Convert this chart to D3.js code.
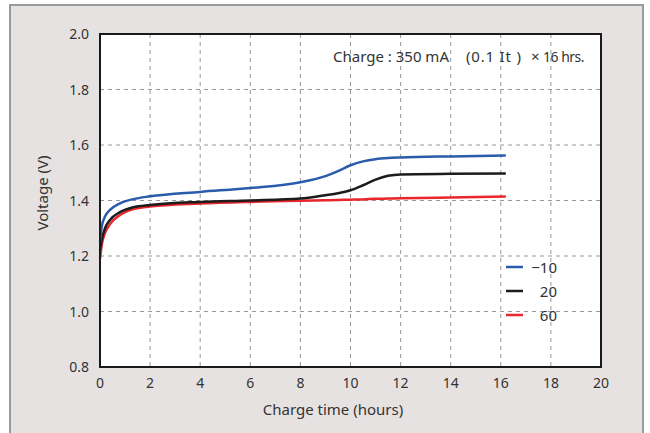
<!DOCTYPE html>
<html lang="en">
<head>
<meta charset="UTF-8">
<title>Charge voltage</title>
<script src="https://cdn.jsdelivr.net/npm/d3@7/dist/d3.min.js"></script>
<style>
  body { margin: 0; background: #fff; }
  text { font-family: "Noto Sans", sans-serif; fill: #333; }
</style>
</head>
<body>
<svg width="650" height="433"></svg>
<script>
// charge time (hours)
const hours = [0, 0.07, 0.2, 0.4, 0.8, 1.33, 2, 4, 6, 8, 9, 9.5, 10, 10.5, 11, 11.5, 12, 14, 16.2];
// voltage per ambient temperature
const vMinus10 = [1.25, 1.306, 1.342, 1.366, 1.39, 1.405, 1.415, 1.431, 1.445, 1.466, 1.488, 1.506, 1.527, 1.541, 1.549, 1.553, 1.555, 1.559, 1.562];
const v20 = [1.22, 1.258, 1.30, 1.33, 1.358, 1.376, 1.384, 1.395, 1.40, 1.407, 1.419, 1.426, 1.437, 1.455, 1.475, 1.489, 1.494, 1.496, 1.497];
const v60 = [1.19, 1.24, 1.283, 1.315, 1.348, 1.369, 1.378, 1.389, 1.395, 1.399, 1.401, 1.402, 1.403, 1.404, 1.406, 1.407, 1.408, 1.411, 1.414];
const seriesNames = ["\u221210", "20", "60"];
const seriesColors = ["#2b5cab", "#1c1c1c", "#e8262b"];
const xTicks = [0, 2, 4, 6, 8, 10, 12, 14, 16, 18, 20];
const yTicks = [0.8, 1.0, 1.2, 1.4, 1.6, 1.8, 2.0];

const svg = d3.select("svg");

// frame
svg.append("rect")
  .attr("x", 10).attr("y", 5).attr("width", 633).attr("height", 440)
  .attr("fill", "#e7e2e2").attr("stroke", "#9a9a9a").attr("stroke-width", 2);

const x = d3.scaleLinear().domain([0, 20]).range([100, 601]);
const y = d3.scaleLinear().domain([0.8, 2.0]).range([367, 34]);

svg.append("rect")
  .attr("x", x(0)).attr("y", y(2.0))
  .attr("width", x(20) - x(0)).attr("height", y(0.8) - y(2.0))
  .attr("fill", "#fff");

// grid
svg.append("g").selectAll("line")
  .data(xTicks.slice(1, -1))
  .join("line")
  .attr("x1", d => x(d)).attr("x2", d => x(d))
  .attr("y1", y(2.0)).attr("y2", y(0.8))
  .attr("stroke", "#999").attr("stroke-dasharray", "4,4");
svg.append("g").selectAll("line")
  .data(yTicks.slice(1, -1))
  .join("line")
  .attr("x1", x(0)).attr("x2", x(20))
  .attr("y1", d => y(d)).attr("y2", d => y(d))
  .attr("stroke", "#999").attr("stroke-dasharray", "4,4");

// tick labels
svg.append("g").selectAll("text")
  .data(yTicks)
  .join("text")
  .attr("x", 89).attr("y", d => y(d) + 5)
  .attr("text-anchor", "end").attr("font-size", 14)
  .text(d => d.toFixed(1));
svg.append("g").selectAll("text")
  .data(xTicks)
  .join("text")
  .attr("x", d => x(d)).attr("y", 388)
  .attr("text-anchor", "middle").attr("font-size", 14)
  .text(d => d);

// curves
const series = [vMinus10, v20, v60];
const line = d3.line()
  .x((d, i) => x(hours[i]))
  .y(d => y(d))
  .curve(d3.curveMonotoneX);
svg.append("g").selectAll("path")
  .data(series.slice().reverse())
  .join("path")
  .attr("d", d => line(d))
  .attr("fill", "none")
  .attr("stroke", (d, i) => seriesColors[2 - i])
  .attr("stroke-width", 2.5);

// plot border
svg.append("rect")
  .attr("x", x(0)).attr("y", y(2.0))
  .attr("width", x(20) - x(0)).attr("height", y(0.8) - y(2.0))
  .attr("fill", "none").attr("stroke", "#1a1a1a").attr("stroke-width", 2);

// legend
const lg = svg.append("g").selectAll("g")
  .data(seriesNames)
  .join("g")
  .attr("transform", (d, i) => `translate(0,${267 + i * 24})`);
lg.append("line")
  .attr("x1", 506).attr("x2", 523)
  .attr("stroke", (d, i) => seriesColors[i]).attr("stroke-width", 2.5);
lg.append("text")
  .attr("x", 557).attr("y", 6)
  .attr("text-anchor", "end").attr("font-size", 15)
  .text(d => d);

// annotation
const note = svg.append("text")
  .attr("y", 62)
  .attr("font-size", 15);
note.append("tspan").attr("x", 333).text("Charge : 350 mA");
note.append("tspan").attr("x", 466).attr("letter-spacing", 0.8).text("(0.1 It )");
note.append("tspan").attr("x", 531).text("\u00d7");
note.append("tspan").attr("x", 543)
  .attr("font-size", 14).attr("letter-spacing", -0.5)
  .text("16 hrs.");

// axis titles
svg.append("text")
  .attr("x", 333).attr("y", 415)
  .attr("text-anchor", "middle").attr("font-size", 15)
  .text("Charge time (hours)");
svg.append("text")
  .attr("transform", "translate(48,193) rotate(-90)")
  .attr("text-anchor", "middle").attr("font-size", 15)
  .text("Voltage (V)");
</script>
</body>
</html>
